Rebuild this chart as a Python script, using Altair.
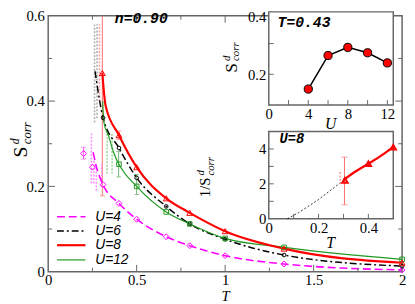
import altair as alt
import pandas as pd

# ---------------- data ----------------
u4_T = [0.2, 0.25, 0.31, 0.4, 0.5, 0.667, 0.8, 1.0, 1.333, 2.0]
u4_S = [0.277, 0.245, 0.204, 0.16, 0.123, 0.082, 0.061, 0.0375, 0.018, 0.004]
u4_line_T = [0.254, 0.27, 0.31, 0.4, 0.5, 0.667, 0.8, 1.0, 1.333, 2.0]
u4_line_S = [0.28, 0.25, 0.204, 0.16, 0.123, 0.082, 0.061, 0.0375, 0.018, 0.004]

u6_T = [0.31, 0.4, 0.5, 0.667, 0.8, 1.0, 1.333, 2.0]
u6_S = [0.361, 0.29, 0.22, 0.153, 0.112, 0.076, 0.039, 0.013]
u6_line_T = [0.265, 0.31, 0.4, 0.5, 0.667, 0.8, 1.0, 1.333, 2.0]
u6_line_S = [0.47, 0.361, 0.29, 0.22, 0.153, 0.112, 0.076, 0.039, 0.013]

u8_T = [0.306, 0.4, 0.5, 0.667, 0.8, 1.0, 1.333, 2.0]
u8_S = [0.466, 0.32, 0.245, 0.172, 0.138, 0.095, 0.054, 0.021]
u8_line_T = [0.306, 0.324, 0.4, 0.5, 0.667, 0.8, 1.0, 1.333, 2.0]
u8_line_S = [0.466, 0.39, 0.32, 0.245, 0.172, 0.138, 0.095, 0.054, 0.021]

u12_T = [0.4, 0.5, 0.667, 0.8, 1.0, 1.333, 2.0]
u12_S = [0.252, 0.2, 0.14, 0.112, 0.078, 0.057, 0.029]
u12_line_T = [0.308, 0.315, 0.343, 0.37, 0.4, 0.5, 0.667, 0.8, 1.0, 1.333, 2.0]
u12_line_S = [0.40, 0.35, 0.316, 0.279, 0.252, 0.2, 0.14, 0.112, 0.078, 0.057, 0.029]

# error bars (solid)
eb_T = [0.306, 0.398, 0.5, 0.2, 0.4]
eb_lo = [0.178, 0.222, 0.181, 0.264, 0.31]
eb_hi = [0.75, 0.282, 0.228, 0.292, 0.33]
eb_col = ["#ff7070", "#70b070", "#70b070", "#ff60ff", "#ff8080"]
# error bars (dotted)
ed_T = [0.262, 0.276, 0.29, 0.333, 0.361, 0.244, 0.258, 0.272, 0.302]
ed_lo = [0.35, 0.36, 0.40, 0.23, 0.23, 0.207, 0.207, 0.19, 0.20]
ed_hi = [0.58, 0.58, 0.58, 0.327, 0.327, 0.325, 0.26, 0.25, 0.252]
ed_col = ["#b0b0b0", "#b0b0b0", "#ffa0a0", "#a0d8a0", "#a0d8a0",
          "#ff90ff", "#ff90ff", "#ff90ff", "#ff90ff"]

legend_labels = ["U=4", "U=6", "U=8", "U=12"]

# inset 1 (T = 0.43)
in1_U = [4, 6, 8, 10, 12]
in1_S = [0.152, 0.261, 0.2875, 0.27, 0.237]

# inset 2 (U = 8), 1/S
in2_T = [0.306, 0.4, 0.5]
in2_inv = [2.2, 3.15, 4.1]
in2_line_T = [0.3, 0.35, 0.4, 0.45, 0.5]
in2_line_inv = [2.22, 2.72, 3.15, 3.6, 4.12]
in2_fit_T = [0.075, 0.12, 0.2, 0.3]
in2_fit_inv = [0.0, 0.35, 1.1, 2.2]
in2_eb_T = [0.304]
in2_eb_lo = [0.80]
in2_eb_hi = [3.53]
in2_ed_T = [0.287]
in2_ed_lo = [1.97]
in2_ed_hi = [2.71]

# ---------------- styling ----------------
SERIF = "Liberation Serif"
SANS = "Liberation Sans"
MONO = "Liberation Mono"
FRAME = "#666666"
MAG, BLK, RED, GRN = "#ff00ff", "#000000", "#ff0000", "#229922"

W, H = 361, 261
OX, OY = 49, 13


def px(x):
    return x - OX


def py(y):
    return y - OY


XS = alt.Scale(domain=[0, 2], nice=False, zero=False)
YS = alt.Scale(domain=[0, 0.6], nice=False, zero=False)
XA = alt.Axis(values=[0, 0.5, 1, 1.5, 2], format="~g", ticks=False, domain=False,
              grid=False, labelFont=SERIF, labelFontSize=15, labelPadding=1,
              labelColor="black", labelFlush=False, title=None)
YA = alt.Axis(values=[0, 0.2, 0.4, 0.6], format="~g", ticks=False, domain=False,
              grid=False, labelFont=SERIF, labelFontSize=15, labelPadding=4,
              labelColor="black", labelFlush=False, title=None)


def X(f):
    return alt.X(f, type="quantitative", scale=XS, axis=XA)


def Y(f):
    return alt.Y(f, type="quantitative", scale=YS, axis=YA)


def line(T, S, color, width, dash=None):
    df = pd.DataFrame({"T": T, "S": S})
    kw = dict(color=color, strokeWidth=width, interpolate="monotone")
    if dash:
        kw["strokeDash"] = dash
    return alt.Chart(df).mark_line(**kw).encode(x=X("T"), y=Y("S"))


def pts(T, S, color, shape, size):
    df = pd.DataFrame({"T": T, "S": S})
    return alt.Chart(df).mark_point(shape=shape, filled=False, color=color,
                                    size=size, strokeWidth=1, opacity=1).encode(x=X("T"), y=Y("S"))


def text(label, x, y, font, size, style="normal", weight="normal", angle=0,
         align="left", color="black"):
    kw = dict(font=font, fontSize=size, fontStyle=style, fontWeight=weight,
              align=align, baseline="middle", color=color)
    if angle:
        kw["angle"] = angle
    return alt.Chart(pd.DataFrame({"t": [label]})).mark_text(**kw).encode(
        text="t:N", x=alt.value(px(x)), y=alt.value(py(y)))


# ---------- main panel ----------
eb_df = pd.DataFrame({"T": eb_T, "lo": eb_lo, "hi": eb_hi, "c": eb_col})
ed_df = pd.DataFrame({"T": ed_T, "lo": ed_lo, "hi": ed_hi, "c": ed_col})

errs = alt.Chart(eb_df).mark_rule(strokeWidth=1, clip=True).encode(
    x=X("T"), y=Y("lo"), y2="hi", color=alt.Color("c:N", scale=None))
caps_lo = alt.Chart(eb_df).mark_tick(orient="horizontal", size=5, thickness=1, clip=True).encode(
    x=X("T"), y=Y("lo"), color=alt.Color("c:N", scale=None))
caps_hi = alt.Chart(eb_df).mark_tick(orient="horizontal", size=5, thickness=1, clip=True).encode(
    x=X("T"), y=Y("hi"), color=alt.Color("c:N", scale=None))
dots = alt.Chart(ed_df).mark_rule(strokeWidth=1.6, strokeDash=[2, 1.5], clip=True).encode(
    x=X("T"), y=Y("lo"), y2="hi", color=alt.Color("c:N", scale=None))


def tick_x(vals, length, top=False):
    df = pd.DataFrame({"v": vals})
    if top:
        yy, yy2 = 0, length
    else:
        yy, yy2 = H, H - length
    return alt.Chart(df).mark_rule(color=FRAME, strokeWidth=1).encode(
        x=X("v"), y=alt.value(yy), y2=alt.value(yy2))


def tick_y(vals, length, right=False):
    df = pd.DataFrame({"v": vals})
    if right:
        xx, xx2 = W, W - length
    else:
        xx, xx2 = 0, length
    return alt.Chart(df).mark_rule(color=FRAME, strokeWidth=1).encode(
        y=Y("v"), x=alt.value(xx), x2=alt.value(xx2))


xmaj = [0.5, 1, 1.5]
xmin = [0.25, 0.75, 1.25, 1.75]
ymaj = [0.2, 0.4]
ymin = [0.1, 0.3, 0.5]

ticks = [tick_x(xmaj, 7), tick_x(xmin, 4), tick_x(xmaj, 7, True), tick_x(xmin, 4, True),
         tick_y(ymaj, 7), tick_y(ymin, 4), tick_y(ymaj, 7, True), tick_y(ymin, 4, True)]

series = [
    line(u4_line_T, u4_line_S, MAG, 1.6, [8, 4]),
    line(u6_line_T, u6_line_S, BLK, 1.5, [7, 3, 2, 3]),
    line(u12_line_T, u12_line_S, GRN, 1.2),
    line(u8_line_T, u8_line_S, RED, 2.2),
    pts(u4_T, u4_S, MAG, "diamond", 36),
    pts(u6_T, u6_S, BLK, "circle", 14),
    pts(u12_T, u12_S, GRN, "square", 22),
    pts(u8_T, u8_S, RED, "triangle-up", 36),
]

# legend
leg_rows_y = [218, 232.5, 247, 262]
leg_styles = [(MAG, 1.6, [8, 4]), (BLK, 1.5, [7, 3, 2, 3]), (RED, 2.2, None), (GRN, 1.2, None)]
legend = []
for lab, yy, (c, w, d) in zip(legend_labels, leg_rows_y, leg_styles):
    kw = dict(color=c, strokeWidth=w)
    if d:
        kw["strokeDash"] = d
    legend.append(alt.Chart(pd.DataFrame({"t": [lab]})).mark_rule(**kw).encode(
        x=alt.value(px(58)), x2=alt.value(px(87)), y=alt.value(py(yy))))
    legend.append(text(lab, 97, yy, SANS, 14, style="italic"))

labels_main = [
    text("n=0.90", 117, 15, MONO, 15, style="italic", weight="bold"),
    text("T", 230, 298.5, SERIF, 15, style="italic", align="center"),
    text("S", 21, 152, SERIF, 20, angle=270, align="center"),
    text("d", 15, 144, SERIF, 12, style="italic", angle=270),
    text("corr", 27, 144, SERIF, 13, style="italic", angle=270),
]

main = alt.layer(errs, caps_lo, caps_hi, dots, *series, *ticks, *legend, *labels_main)

# ---------- inset 1 ----------
I1L, I1R, I1T, I1B = 274, 401, 9, 104
IX1 = alt.Scale(domain=[0, 12.6], range=[px(I1L), px(I1R)], nice=False, zero=False)
IY1 = alt.Scale(domain=[0.1, 0.403], range=[py(I1B), py(I1T)], nice=False, zero=False)
IXA1 = alt.Axis(values=[0, 4, 8, 12], orient="bottom", offset=-(H - py(I1B)), ticks=False,
                domain=False, grid=False, labelFont=SERIF, labelFontSize=15, labelPadding=2,
                labelColor="black", labelFlush=False, title=None)
IYA1 = alt.Axis(values=[0.2, 0.4], format="~g", orient="left", offset=-px(I1L), ticks=False,
                domain=False, grid=False, labelFont=SERIF, labelFontSize=15, labelPadding=3,
                labelColor="black", labelFlush=False, title=None,
                labelOffset={"condition": {"test": "datum.value > 0.35", "value": 4}, "value": 0})


def X1(f):
    return alt.X(f, type="quantitative", scale=IX1, axis=IXA1)


def Y1(f):
    return alt.Y(f, type="quantitative", scale=IY1, axis=IYA1)


frame1 = alt.Chart(pd.DataFrame({"a": [0], "b": [12.6], "c": [0.1], "d": [0.403]})).mark_rect(
    fill="white", stroke=FRAME, strokeWidth=1.5).encode(x=X1("a"), x2="b", y=Y1("c"), y2="d")
in1_df = pd.DataFrame({"U": in1_U, "S": in1_S})
in1_line = alt.Chart(in1_df).mark_line(color="black", strokeWidth=1.5).encode(x=X1("U"), y=Y1("S"))
in1_pts = alt.Chart(in1_df).mark_point(shape="circle", filled=True, fill="#ff0000", stroke="black",
                                       strokeWidth=1, size=70, opacity=1).encode(x=X1("U"), y=Y1("S"))
in1_tx = alt.Chart(pd.DataFrame({"v": [2, 4, 6, 8, 10, 12]})).mark_rule(color=FRAME).encode(
    x=X1("v"), y=alt.value(py(I1B)), y2=alt.value(py(I1B) - 5))
in1_ty = alt.Chart(pd.DataFrame({"v": [0.2, 0.3]})).mark_rule(color=FRAME).encode(
    y=Y1("v"), x=alt.value(px(I1L)), x2=alt.value(px(I1L) + 5))
in1_labels = [
    text("T=0.43", 283, 19, MONO, 15, style="italic", weight="bold"),
    text("U", 337, 123, SERIF, 16, style="italic", align="center"),
    text("S", 237, 66, SERIF, 17, angle=270, align="center"),
    text("d", 231, 59, SERIF, 11, style="italic", angle=270),
    text("corr", 241, 59, SERIF, 11, style="italic", angle=270),
]
inset1 = alt.layer(frame1, in1_tx, in1_ty, in1_line, in1_pts, *in1_labels)

# ---------- inset 2 ----------
I2L, I2R, I2T, I2B = 274, 401, 131, 220
IX2 = alt.Scale(domain=[0, 0.5], range=[px(I2L), px(I2R)], nice=False, zero=False)
IY2 = alt.Scale(domain=[0, 5], range=[py(I2B), py(I2T)], nice=False, zero=False)
IXA2 = alt.Axis(values=[0, 0.2, 0.4], format="~g", orient="bottom", offset=-(H - py(I2B)),
                ticks=False, domain=False, grid=False, labelFont=SERIF, labelFontSize=15,
                labelPadding=2, labelColor="black", labelFlush=False, title=None)
IYA2 = alt.Axis(values=[0, 2, 4], orient="left", offset=-px(I2L), ticks=False,
                domain=False, grid=False, labelFont=SERIF, labelFontSize=15, labelPadding=3,
                labelColor="black", labelFlush=False, title=None)


def X2(f):
    return alt.X(f, type="quantitative", scale=IX2, axis=IXA2)


def Y2(f):
    return alt.Y(f, type="quantitative", scale=IY2, axis=IYA2)


frame2 = alt.Chart(pd.DataFrame({"a": [0], "b": [0.5], "c": [0], "d": [5]})).mark_rect(
    fill="white", stroke=FRAME, strokeWidth=1.5).encode(x=X2("a"), x2="b", y=Y2("c"), y2="d")
in2_fit = alt.Chart(pd.DataFrame({"T": in2_fit_T, "v": in2_fit_inv})).mark_line(
    color="black", strokeWidth=0.8, strokeDash=[2, 2]).encode(x=X2("T"), y=Y2("v"))
in2_line = alt.Chart(pd.DataFrame({"T": in2_line_T, "v": in2_line_inv})).mark_line(
    color=RED, strokeWidth=2.2, interpolate="monotone").encode(x=X2("T"), y=Y2("v"))
in2_pts = alt.Chart(pd.DataFrame({"T": in2_T, "v": in2_inv})).mark_point(
    shape="triangle-up", filled=False, color=RED, size=30, opacity=1).encode(x=X2("T"), y=Y2("v"))
eb2 = pd.DataFrame({"T": in2_eb_T, "lo": in2_eb_lo, "hi": in2_eb_hi})
in2_eb = alt.Chart(eb2).mark_rule(color="#ff7070", strokeWidth=1).encode(x=X2("T"), y=Y2("lo"), y2="hi")
in2_cl = alt.Chart(eb2).mark_tick(orient="horizontal", size=6, thickness=1, color="#ff7070").encode(
    x=X2("T"), y=Y2("lo"))
in2_ch = alt.Chart(eb2).mark_tick(orient="horizontal", size=6, thickness=1, color="#ff7070").encode(
    x=X2("T"), y=Y2("hi"))
in2_ed = alt.Chart(pd.DataFrame({"T": in2_ed_T, "lo": in2_ed_lo, "hi": in2_ed_hi})).mark_rule(
    color="#ffa0a0", strokeWidth=1.6, strokeDash=[2, 1.5]).encode(x=X2("T"), y=Y2("lo"), y2="hi")
in2_tx = alt.Chart(pd.DataFrame({"v": [0.1, 0.2, 0.3, 0.4]})).mark_rule(color=FRAME).encode(
    x=X2("v"), y=alt.value(py(I2B)), y2=alt.value(py(I2B) - 5))
in2_ty = alt.Chart(pd.DataFrame({"v": [1, 2, 3, 4]})).mark_rule(color=FRAME).encode(
    y=Y2("v"), x=alt.value(px(I2L)), x2=alt.value(px(I2L) + 5))
in2_labels = [
    text("U=8", 285, 139, MONO, 14, style="italic", weight="bold"),
    text("T", 337, 245, SERIF, 16, style="italic", align="center"),
    text("1/S", 209, 188, SERIF, 15, angle=270, align="center"),
    text("d", 205, 176, SERIF, 11, style="italic", angle=270),
    text("corr", 215, 176, SERIF, 11, style="italic", angle=270),
]
inset2 = alt.layer(frame2, in2_tx, in2_ty, in2_fit, in2_ed, in2_eb, in2_cl, in2_ch,
                   in2_line, in2_pts, *in2_labels)

chart = alt.layer(main, inset1, inset2).resolve_scale(
    x="independent", y="independent"
).properties(
    width=W, height=H,
    autosize=alt.AutoSizeParams(type="none"),
    padding={"left": 41, "top": 5, "right": 5, "bottom": 30},
).configure_view(stroke=FRAME, strokeWidth=1.5)

chart.save("out.html", embed_options={"renderer": "svg", "actions": False})
